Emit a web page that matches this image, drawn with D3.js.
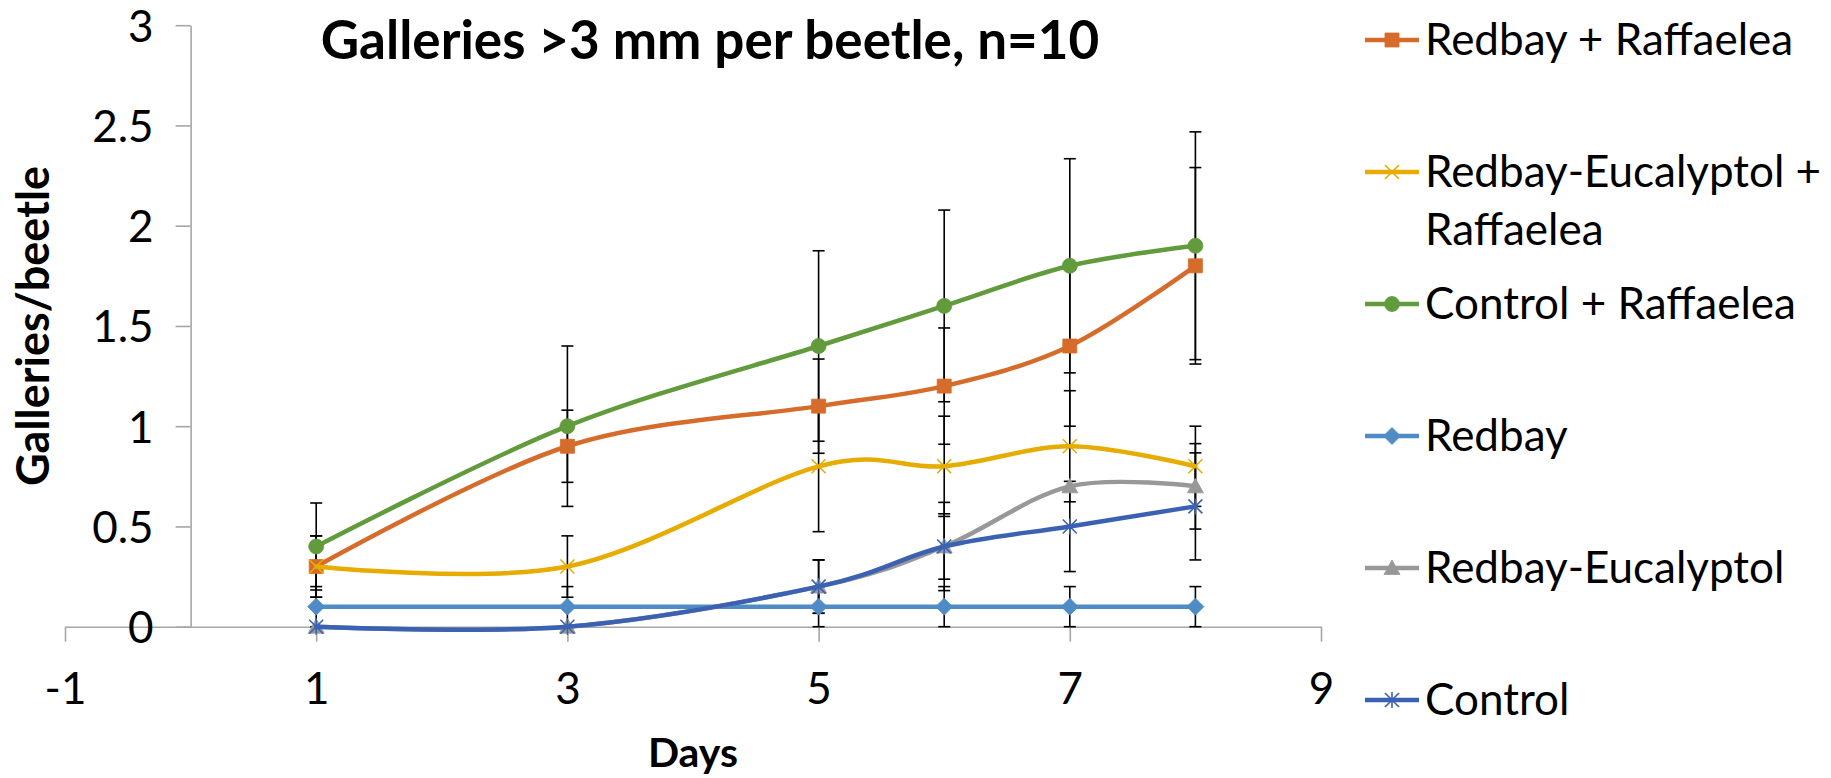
<!DOCTYPE html>
<html>
<head>
<meta charset="utf-8">
<script src="https://cdn.jsdelivr.net/npm/d3@7"></script>
<style>
  html, body { margin: 0; padding: 0; background: #ffffff; }
  svg { display: block; font-family: Lato, "Open Sans", sans-serif; }
</style>
</head>
<body>
<svg id="chart" width="1831" height="778"></svg>
<script>
// Sampling days
const days = [1, 3, 5, 6, 7, 8];

// Mean galleries per beetle for each treatment
const redbayRaffaelea      = [0.3, 0.9, 1.1, 1.2, 1.4, 1.8];
const eucalyptolRaffaelea  = [0.3, 0.3, 0.8, 0.8, 0.9, 0.8];
const controlRaffaelea     = [0.4, 1.0, 1.4, 1.6, 1.8, 1.9];
const redbay               = [0.1, 0.1, 0.1, 0.1, 0.1, 0.1];
const redbayEucalyptol     = [0.0, 0.0, 0.2, 0.4, 0.7, 0.7];
const control              = [0.0, 0.0, 0.2, 0.4, 0.5, 0.6];

// Standard errors (n=10)
const redbayRaffaeleaErr     = [0.153, 0.18, 0.235, 0.29, 0.4, 0.49];
const eucalyptolRaffaeleaErr = [0.153, 0.153, 0.326, 0.25, 0.277, 0.2];
const controlRaffaeleaErr    = [0.217, 0.4, 0.475, 0.478, 0.534, 0.568];
const redbayErr              = [0.1, 0.1, 0.1, 0.1, 0.1, 0.1];
const redbayEucalyptolErr    = [0, 0, 0.133, 0.163, 0, 0.213];
const controlErr             = [0, 0, 0.133, 0.22, 0.225, 0.267];

// Axis ticks
const xTicks = [-1, 1, 3, 5, 7, 9];
const yTicks = [0, 0.5, 1, 1.5, 2, 2.5, 3];

// Series in drawing order
const seriesNames  = ["Redbay", "Redbay + Raffaelea", "Redbay-Eucalyptol",
                      "Redbay-Eucalyptol + Raffaelea", "Control", "Control + Raffaelea"];
const seriesValues = [redbay, redbayRaffaelea, redbayEucalyptol,
                      eucalyptolRaffaelea, control, controlRaffaelea];
const seriesErrors = [redbayErr, redbayRaffaeleaErr, redbayEucalyptolErr,
                      eucalyptolRaffaeleaErr, controlErr, controlRaffaeleaErr];
const seriesColors = ["#4f8cc6", "#d66c2b", "#989898", "#e6ac00", "#3b62b2", "#619b3c"];
const seriesShapes = ["diamond", "square", "triangle", "cross", "star", "circle"];

// Legend order (top to bottom)
const legendOrder = ["Redbay + Raffaelea", "Redbay-Eucalyptol + Raffaelea", "Control + Raffaelea",
                     "Redbay", "Redbay-Eucalyptol", "Control"];

const series = seriesNames.map((name, i) => ({
  name,
  color: seriesColors[i],
  shape: seriesShapes[i],
  points: days.map((d, j) => ({ day: d, value: seriesValues[i][j], err: seriesErrors[i][j] }))
}));

const svg = d3.select("#chart");

const x = d3.scaleLinear().domain([-1, 9]).range([65, 1321]);
const y = d3.scaleLinear().domain([0, 3]).range([626.7, 25.2]);

// Plain hyphen for negatives, shortest decimal form otherwise
const numLabel = d => String(+d.toFixed(2));

// Axes
const axisColor = "#a6a6a6";
const labelSize = 44;
const xAxis = svg.append("g")
  .attr("transform", `translate(0,${y(0)})`)
  .call(d3.axisBottom(x).tickValues(xTicks).tickSize(15).tickSizeOuter(0).tickFormat(numLabel));
xAxis.select(".domain").attr("stroke", axisColor).attr("stroke-width", 1.6);
xAxis.selectAll(".tick line").attr("stroke", axisColor).attr("stroke-width", 1.6);
xAxis.selectAll(".tick text")
  .attr("y", 77).attr("dy", 0)
  .attr("fill", "#000").attr("font-size", labelSize).attr("font-family", "Lato");

const yAxis = svg.append("g")
  .attr("transform", `translate(${x(0)},0)`)
  .call(d3.axisLeft(y).tickValues(yTicks).tickSize(15).tickSizeOuter(0).tickFormat(numLabel));
yAxis.select(".domain").attr("stroke", axisColor).attr("stroke-width", 1.6);
yAxis.selectAll(".tick line").attr("stroke", axisColor).attr("stroke-width", 1.6);
yAxis.selectAll(".tick text")
  .attr("x", -37).attr("dy", "0.36em")
  .attr("fill", "#000").attr("font-size", labelSize).attr("font-family", "Lato");

// Marker shapes
function markerPath(shape) {
  switch (shape) {
    case "diamond":  return "M0,-8.5L8.5,0L0,8.5L-8.5,0Z";
    case "square":   return "M-7,-7H7V7H-7Z";
    case "triangle": return "M0,-8L8,6.5H-8Z";
    case "cross":    return "M-7,-7L7,7M-7,7L7,-7";
    case "star":     return "M-7,-7L7,7M-7,7L7,-7M0,-8V8";
    case "circle":   return "M7.5,0A7.5,7.5 0 1,1 -7.5,0A7.5,7.5 0 1,1 7.5,0Z";
  }
}
function drawMarker(g, shape, color) {
  const open = shape === "cross" || shape === "star";
  g.append("path")
    .attr("d", markerPath(shape))
    .attr("fill", open ? "none" : color)
    .attr("stroke", color)
    .attr("stroke-width", open ? 1.6 : 0.8);
}

// Error bars
const errG = svg.append("g").attr("stroke", "#000").attr("stroke-width", 1.6);
series.forEach(s => {
  s.points.filter(p => p.err > 0).forEach(p => {
    const cx = x(p.day), y1 = y(p.value + p.err), y0 = y(p.value - p.err);
    errG.append("line").attr("x1", cx).attr("x2", cx).attr("y1", y1).attr("y2", y0);
    errG.append("line").attr("x1", cx - 6).attr("x2", cx + 6).attr("y1", y1).attr("y2", y1);
    errG.append("line").attr("x1", cx - 6).attr("x2", cx + 6).attr("y1", y0).attr("y2", y0);
  });
});

// Smoothed lines
const line = d3.line()
  .x(d => x(d.day))
  .y(d => y(d.value))
  .curve(d3.curveCardinal.tension(0));

series.forEach(s => {
  svg.append("path")
    .attr("d", line(s.points))
    .attr("fill", "none")
    .attr("stroke", s.color)
    .attr("stroke-width", 4.5)
    .attr("stroke-linejoin", "round")
    .attr("stroke-linecap", "round");
  s.points.forEach(p => {
    const g = svg.append("g").attr("transform", `translate(${x(p.day)},${y(p.value)})`);
    drawMarker(g, s.shape, s.color);
  });
});

// Title
svg.append("text")
  .attr("x", 710).attr("y", 59)
  .attr("text-anchor", "middle")
  .attr("font-family", "Lato").attr("font-weight", 700).attr("font-size", 53)
  .text("Galleries >3 mm per beetle, n=10");

// Axis titles
svg.append("text")
  .attr("transform", `translate(49,${(y(0) + y(3)) / 2}) rotate(-90)`)
  .attr("text-anchor", "middle")
  .attr("font-family", "Lato").attr("font-weight", 700).attr("font-size", 45)
  .text("Galleries/beetle");

svg.append("text")
  .attr("x", (x(-1) + x(9)) / 2).attr("y", 767)
  .attr("text-anchor", "middle")
  .attr("font-family", "Lato").attr("font-weight", 700).attr("font-size", 41)
  .text("Days");

// Legend
const legendRow = d3.scaleLinear().domain([0, 5]).range([40, 700]);
const legend = svg.append("g");
legendOrder.forEach((name, i) => {
  const s = series.find(d => d.name === name);
  const cy = legendRow(i);
  const g = legend.append("g").attr("transform", `translate(0,${cy})`);
  g.append("line").attr("x1", 1365).attr("x2", 1419).attr("y1", 0).attr("y2", 0)
    .attr("stroke", s.color).attr("stroke-width", 4.5);
  drawMarker(g.append("g").attr("transform", "translate(1392,0)"), s.shape, s.color);
  const words = name === "Redbay-Eucalyptol + Raffaelea"
    ? ["Redbay-Eucalyptol +", "Raffaelea"] : [name];
  const t = g.append("text")
    .attr("x", 1425).attr("y", 15)
    .attr("font-family", "Lato").attr("font-size", 44);
  words.forEach((w, k) => {
    t.append("tspan").attr("x", 1425).attr("dy", k === 0 ? 0 : 58).text(w);
  });
});
</script>
</body>
</html>
